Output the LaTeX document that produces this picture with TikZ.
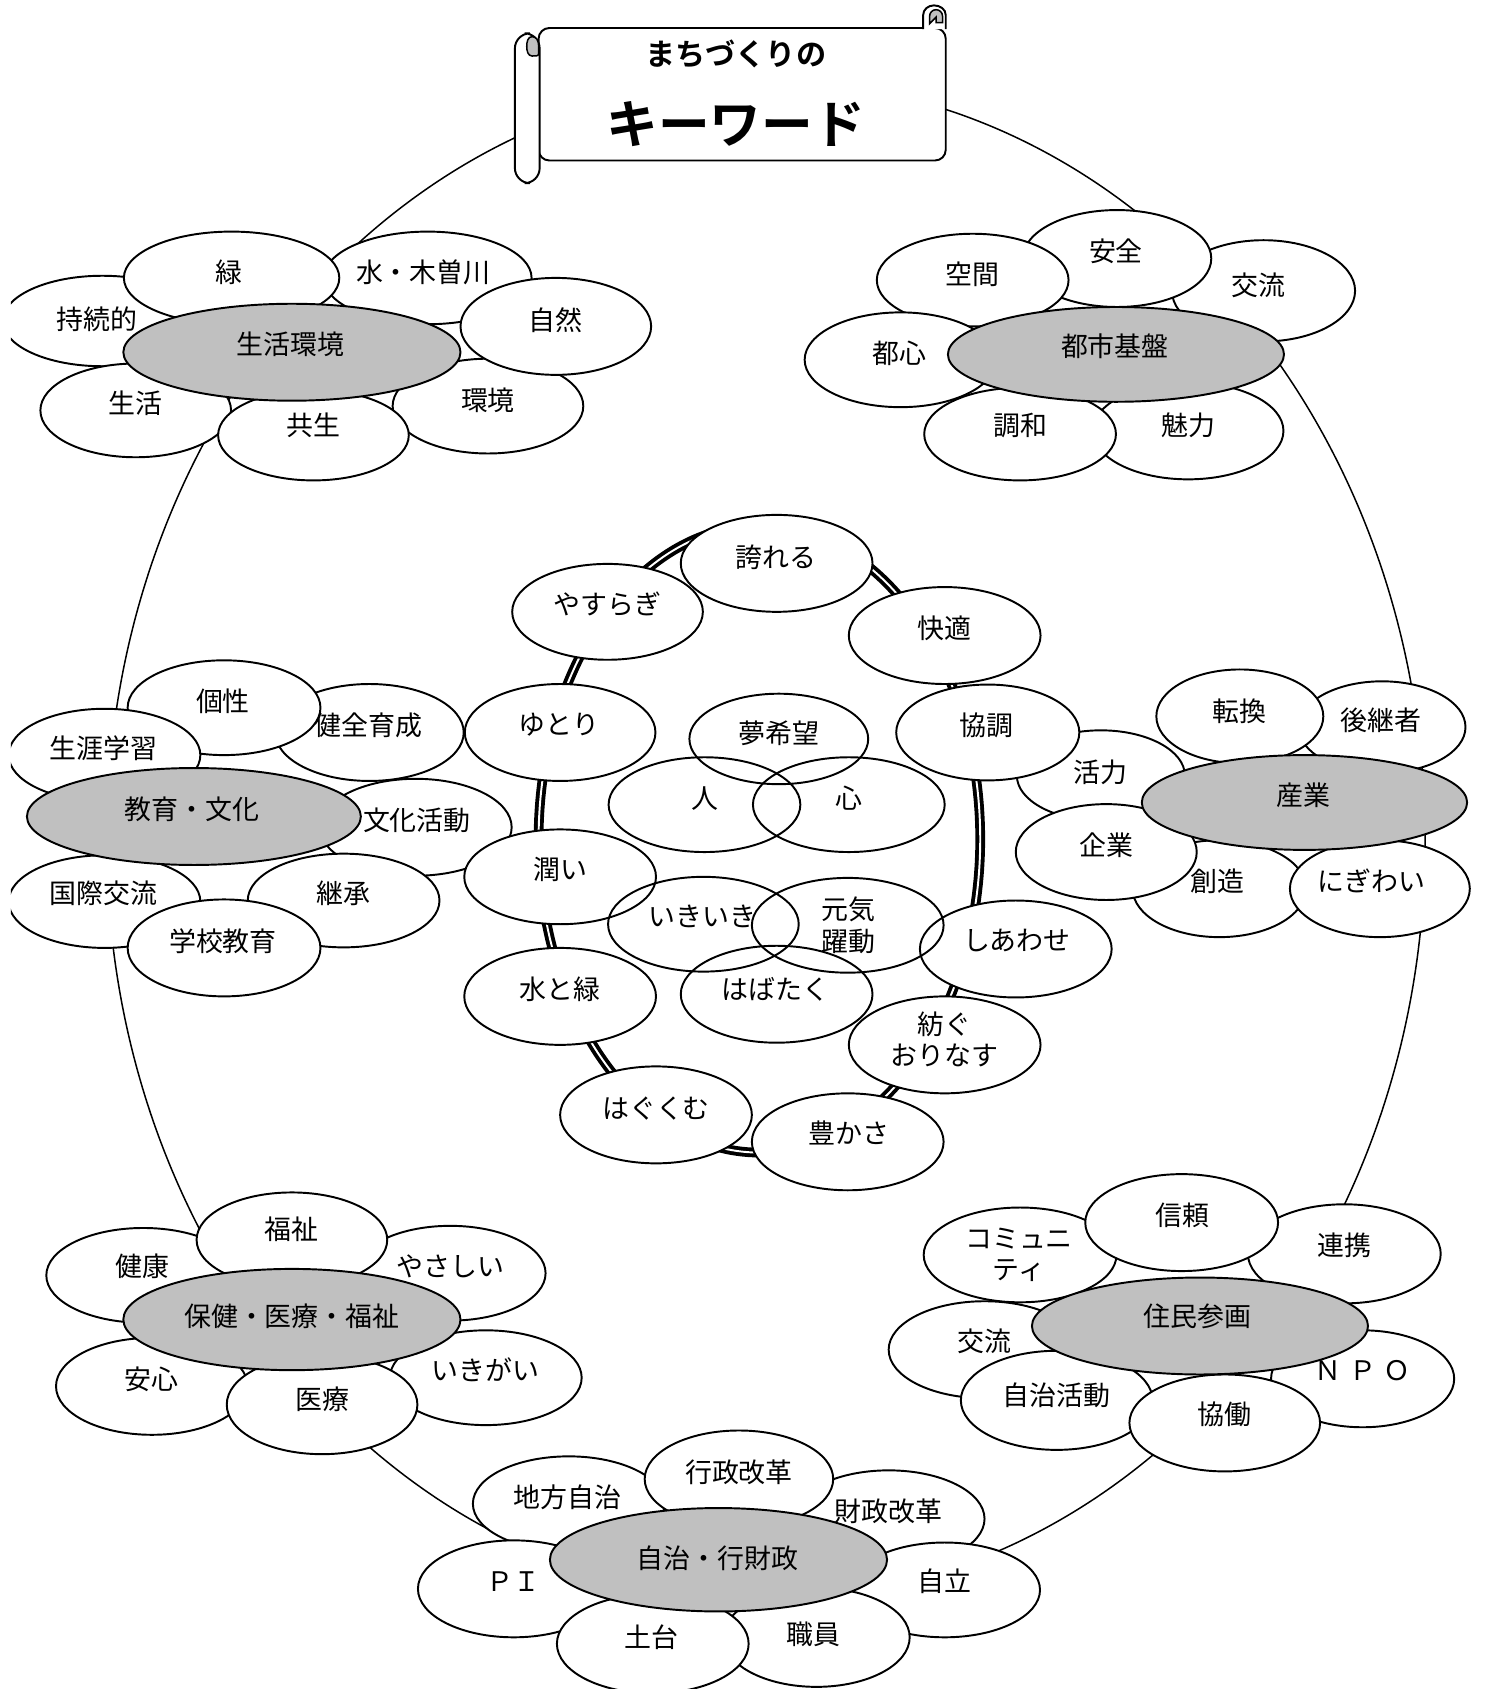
\documentclass[tikz,border=0pt]{standalone}
\usepackage{fontspec}
\setmainfont{Noto Sans CJK JP}[BoldFont={Noto Sans CJK JP Bold}]
\usetikzlibrary{shapes.geometric}
\definecolor{gr}{RGB}{192,192,192}
\tikzset{
  shp/.style={ellipse, draw=black, line width=0.9pt, inner sep=0pt, outer sep=0pt},
  wf/.style={shp, fill=white},
  gf/.style={shp, fill=gr},
  tf/.style={shp},
  lab/.style={inner sep=0pt, font=\fontsize{12.5pt}{14.5pt}\selectfont, align=center},
  bigline/.style={ellipse, draw=black, line width=0.7pt, inner sep=0pt},
  ringline/.style={ellipse, draw=black, line width=1.8pt, double=white, double distance=0.9pt, inner sep=0pt},
  scr/.style={draw=black, line width=0.9pt, fill=white},
}
\newcommand\E[6]{\node[#1, minimum width=#5*0.5pt, minimum height=#6*0.5pt] (#2) at (#3,#4) {};}
\newcommand\T[4]{\node[lab] (#1) at (#2,#3) {#4};}
\begin{document}
\begin{tikzpicture}[x=0.5pt,y=-0.5pt]
\useasboundingbox (0,0) rectangle (1378,1568);
\clip (10,0) rectangle (1378,1568);
% big outer ring
\node[bigline, minimum width=612pt, minimum height=705pt] (bigring) at (711,780) {};
% cluster A
\E{wf}{a1}{95}{298}{185}{84}
\E{wf}{a2}{397}{258}{193}{86}
\E{wf}{a3}{215}{258}{200}{86}
\E{wf}{a4}{453}{377}{177}{88}
\E{wf}{a5}{126}{381}{177}{87}
\E{wf}{a6}{291}{404}{177}{84}
\E{wf}{a7}{516}{303}{177}{90}
\E{gf}{a0}{271}{327}{313}{90}
% cluster B
\E{wf}{b1}{1173}{270}{170}{94}
\E{wf}{b2}{1037}{240}{175}{90}
\E{wf}{b3}{903}{260}{178}{86}
\E{wf}{b4}{836}{334}{178}{88}
\E{wf}{b5}{1103}{400}{177}{90}
\E{wf}{b6}{947}{403}{178}{86}
\E{gf}{b0}{1036}{329}{312}{88}
% cluster C
\E{wf}{c2}{343}{680}{175}{90}
\E{wf}{c1}{208}{657}{179}{88}
\E{wf}{c3}{97}{701}{178}{86}
\E{wf}{c4}{386}{768}{178}{90}
\E{wf}{c6}{97}{837}{178}{86}
\E{wf}{c5}{319}{836}{178}{87}
\E{gf}{c0}{180}{758}{310}{90}
\E{wf}{c7}{208}{880}{179}{90}
% cluster D
\E{wf}{d1}{1283}{675}{155}{85}
\E{wf}{d2}{1151}{665}{155}{87}
\E{wf}{d3}{1022}{720}{156}{84}
\E{wf}{d4}{1132}{825}{161}{90}
\E{wf}{d5}{1281}{825}{167}{90}
\E{wf}{d6}{1027}{791}{168}{89}
\E{gf}{d0}{1211}{745}{302}{88}
% cluster E
\E{wf}{e1}{133}{1184}{180}{88}
\E{wf}{e2}{418}{1182}{177}{88}
\E{wf}{e3}{271}{1151}{177}{88}
\E{wf}{e4}{141}{1287}{178}{90}
\E{wf}{e5}{451}{1279}{178}{88}
\E{wf}{e6}{299}{1304}{177}{92}
\E{gf}{e0}{271}{1225}{313}{94}
% cluster F
\E{wf}{f1}{947}{1165}{179}{88}
\E{wf}{f2}{1248}{1164}{179}{92}
\E{wf}{f3}{1097}{1135}{179}{90}
\E{wf}{f4}{914}{1253}{178}{90}
\E{wf}{f5}{1265}{1280}{170}{90}
\E{wf}{f6}{981}{1300}{178}{92}
\E{wf}{f7}{1137}{1321}{177}{90}
\E{gf}{f0}{1114}{1231}{312}{90}
% cluster G
\E{wf}{g1}{528}{1396}{178}{88}
\E{wf}{g2}{825}{1410}{178}{90}
\E{wf}{g3}{686}{1373}{175}{90}
\E{wf}{g4}{477}{1475}{178}{90}
\E{wf}{g5}{877}{1476}{177}{88}
\E{wf}{g6}{758}{1520}{173}{92}
\E{wf}{g7}{606}{1526}{178}{92}
\E{gf}{g0}{667}{1448}{313}{96}
% center ring
\node[ringline, minimum width=205pt, minimum height=291pt] (ring) at (705,779) {};
\E{wf}{r1}{721}{523}{178}{90}
\E{wf}{r3}{877}{590}{178}{90}
\E{wf}{r2}{564}{568}{177}{89}
\E{wf}{r4}{917}{680}{170}{89}
\E{wf}{r5}{520}{680}{177}{90}
\E{wf}{r6}{520}{814}{178}{88}
\E{wf}{r7}{520}{925}{178}{90}
\E{wf}{r8}{609}{1035}{178}{90}
\E{wf}{r9}{787}{1060}{178}{90}
\E{wf}{r10}{943}{881}{178}{90}
\E{wf}{r11}{877}{970}{178}{90}
\E{tf}{i1}{723}{686}{166}{84}
\E{tf}{i2}{654}{747}{178}{88}
\E{tf}{i3}{788}{747}{178}{88}
\E{tf}{i4}{653}{858}{177}{88}
\E{tf}{i5}{787}{859}{178}{88}
\E{tf}{i6}{721}{923}{178}{90}
% title scroll
\draw[scr, rounded corners=5] (500,26) -- (878,26) -- (878,149) -- (500,149) -- cycle;
\draw[scr] (857,27) -- (857,14) to[out=90,in=180] (867,5) to[out=0,in=90] (878,14) -- (878,27);
\draw[draw=black, line width=0.7pt, fill=gr] (863,22) -- (863,15) to[out=90,in=180] (869,9) to[out=0,in=90] (875,15) -- (875,21) -- (869,21) -- (869,16) -- cycle;
\draw[scr, rounded corners=7] (478,31) rectangle (501,170);
\draw[draw=black, line width=0.7pt, fill=gr] (494,34) to[out=0,in=90] (500,42) -- (500,50) to[out=-90,in=0] (494,52) to[out=180,in=-90] (489,43) to[out=90,in=180] cycle;
\node[inner sep=0pt, font=\fontsize{14pt}{16pt}\selectfont\bfseries] (title1) at (683,50) {まちづくりの};
\node[inner sep=0pt, font=\fontsize{24pt}{26pt}\selectfont\bfseries] (title2) at (683,115) {キーワード};
% labels
\T{ta1}{90}{296}{持続的}
\T{ta2}{393}{253}{水・木曽川}
\T{ta3}{213}{253}{緑}
\T{ta4}{453}{372}{環境}
\T{ta5}{126}{374}{生活}
\T{ta6}{291}{395}{共生}
\T{ta7}{516}{297}{自然}
\T{ta0}{270}{320}{生活環境}
\T{tb1}{1168}{265}{交流}
\T{tb2}{1036}{233}{安全}
\T{tb3}{903}{255}{空間}
\T{tb4}{835}{328}{都心}
\T{tb5}{1103}{395}{魅力}
\T{tb6}{947}{395}{調和}
\T{tb0}{1035}{321}{都市基盤}
\T{tc1}{207}{651}{個性}
\T{tc2}{342}{673}{健全育成}
\T{tc3}{96}{695}{生涯学習}
\T{tc4}{387}{762}{文化活動}
\T{tc5}{319}{829}{継承}
\T{tc6}{96}{829}{国際交流}
\T{tc0}{178}{751}{教育・文化}
\T{tc7}{207}{874}{学校教育}
\T{td1}{1282}{669}{後継者}
\T{td2}{1151}{660}{転換}
\T{td3}{1022}{717}{活力}
\T{td4}{1130}{818}{創造}
\T{td5}{1273}{818}{にぎわい}
\T{td6}{1027}{785}{企業}
\T{td0}{1210}{738}{産業}
\T{te1}{132}{1176}{健康}
\T{te2}{418}{1176}{やさしい}
\T{te3}{271}{1141}{福祉}
\T{te4}{141}{1280}{安心}
\T{te5}{451}{1272}{いきがい}
\T{te6}{299}{1299}{医療}
\T{te0}{271}{1222}{保健・医療・福祉}
\T{tf1}{946}{1165}{コミュニ\\ティ}
\T{tf2}{1248}{1156}{連携}
\T{tf3}{1098}{1128}{信頼}
\T{tf4}{914}{1245}{交流}
\T{tf5}{1265}{1272}{Ｎ\hspace{3.5pt}Ｐ\hspace{3.5pt}Ｏ}
\T{tf6}{981}{1295}{自治活動}
\T{tf7}{1137}{1313}{協働}
\T{tf0}{1112}{1222}{住民参画}
\T{tg1}{527}{1390}{地方自治}
\T{tg2}{825}{1403}{財政改革}
\T{tg3}{686}{1367}{行政改革}
\T{tg4}{477}{1468}{ＰＩ}
\T{tg5}{877}{1468}{自立}
\T{tg6}{755}{1517}{職員}
\T{tg7}{605}{1520}{土台}
\T{tg0}{666}{1447}{自治・行財政}
\T{tr1}{720}{517}{誇れる}
\T{tr2}{564}{561}{やすらぎ}
\T{tr3}{877}{583}{快適}
\T{tr4}{916}{673}{協調}
\T{tr5}{519}{673}{ゆとり}
\T{tr6}{520}{807}{潤い}
\T{tr7}{520}{918}{水と緑}
\T{tr8}{609}{1029}{はぐくむ}
\T{tr9}{788}{1052}{豊かさ}
\T{tr10}{944}{873}{しあわせ}
\T{tr11}{877}{965}{紡ぐ\\おりなす}
\T{ti1}{723}{681}{夢希望}
\T{ti2}{654}{741}{人}
\T{ti3}{788}{741}{心}
\T{ti4}{652}{851}{いきいき}
\T{ti5}{788}{859}{元気\\躍動}
\T{ti6}{720}{918}{はばたく}
\end{tikzpicture}
\end{document}
